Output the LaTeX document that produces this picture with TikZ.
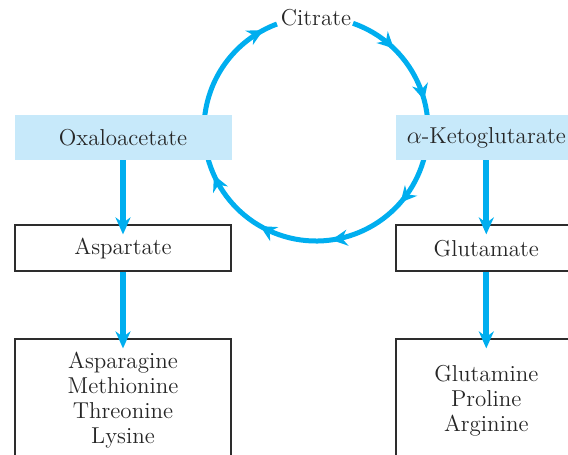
\documentclass[tikz,border=0pt]{standalone}
\usepackage{tikz}
\usetikzlibrary{
    arrows.meta,
    decorations.markings,
    backgrounds,
    positioning
}
\definecolor{cycblue}{RGB}{0,174,239}
\definecolor{acidfill}{RGB}{199,233,250}
\definecolor{boxline}{RGB}{45,45,45}
\tikzstyle{acid} = [fill=acidfill, minimum height=22.5pt, inner sep=0]
\tikzstyle{amino} = [draw=boxline, line width=1pt, minimum height=23pt, inner sep=0]
\tikzstyle{family} = [draw=boxline, line width=1pt, minimum height=61pt, align=center, inner sep=0]
\tikzstyle{feed} = [draw=cycblue, line width=3pt, -{Stealth[length=8.5pt, width=7.5pt]}, shorten >=-5pt]
\tikzstyle{krebs} = [color=cycblue, line width=2.5pt, postaction={decorate}]
\tikzstyle{krebsmarks} = [decoration={markings,
    mark=at position 0.077 with {\arrow{Stealth[length=8pt, width=8pt]}},
    mark=at position 0.174 with {\arrow{Stealth[length=8pt, width=8pt]}},
    mark=at position 0.349 with {\arrow{Stealth[length=8pt, width=8pt]}},
    mark=at position 0.477 with {\arrow{Stealth[length=8pt, width=8pt]}},
    mark=at position 0.595 with {\arrow{Stealth[length=8pt, width=8pt]}},
    mark=at position 0.707 with {\arrow{Stealth[length=8pt, width=8pt]}},
    mark=at position 0.976 with {\arrow{Stealth[length=8pt, width=8pt]}}}]

\begin{document}
\begin{tikzpicture}[x=0.5pt, y=0.5pt, font=\fontsize{11.5}{12.5}\selectfont, text=black!85]
    \useasboundingbox (0,0) rectangle (568,-455);
    \clip (0,0) rectangle (568,-455);

    \coordinate (Hub) at (316,-129);
    \node (Cit) at (316,-18) {Citrate};

    \node[acid, minimum width=108.5pt] (Oxa) at (123,-137.5) {Oxaloacetate};
    \node[acid, minimum width=90pt] (Keto) [right=82pt of Oxa] {$\alpha$-Ketoglutarate};

    \node[amino, minimum width=108pt] (Asp) [below=32pt of Oxa] {Aspartate};
    \node[amino, minimum width=90pt] (Glu) [below=32pt of Keto] {Glutamate};

    \node[family, minimum width=108pt] (AspFam) [below=33pt of Asp] {Asparagine\\Methionine\\Threonine\\Lysine};
    \node[family, minimum width=90pt] (GluFam) [below=33pt of Glu] {Glutamine\\Proline\\Arginine};

    \foreach \From / \To in {Oxa/Asp, Asp/AspFam, Keto/Glu, Glu/GluFam}{
    \draw[feed] (\From) -- (\To);
    }

    \begin{pgfonlayer}{background}
        \draw[krebs, krebsmarks] (Hub) ++(70.7:56pt) arc[start angle=70.7, end angle=-249.6, radius=56pt];
    \end{pgfonlayer}
\end{tikzpicture}
\end{document}
